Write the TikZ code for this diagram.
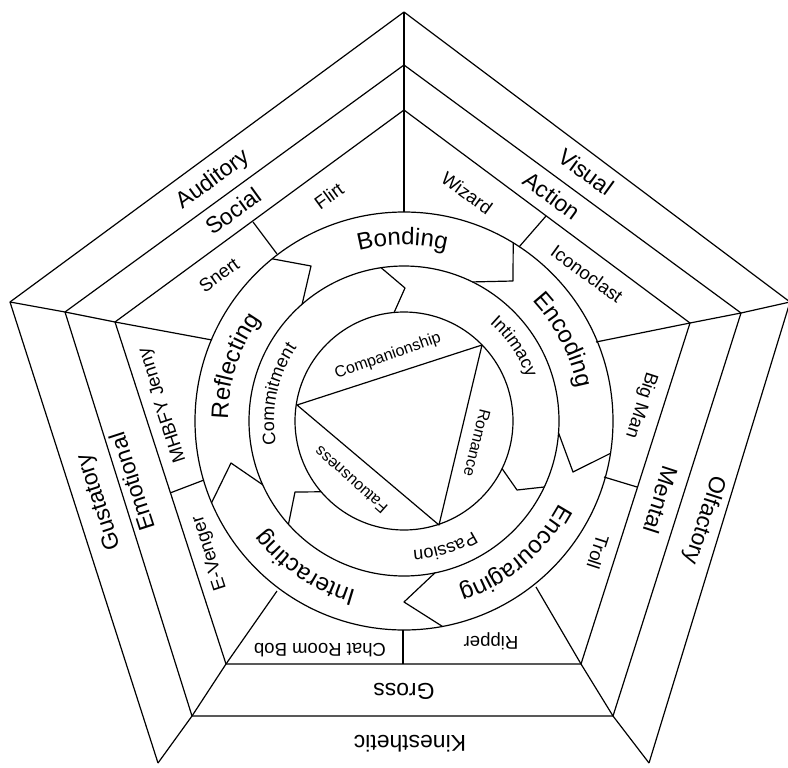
\documentclass[tikz,border=0pt]{standalone}
\usepackage{fontspec}
\setmainfont{Liberation Sans}
\usetikzlibrary{calc,decorations.text}
\begin{document}
\begin{tikzpicture}[x=0.75pt,y=-0.75pt,line width=0.9pt,line join=round,
  lbband/.style={font=\fontsize{17.2}{19}\selectfont,inner sep=0pt},
  lbcell/.style={font=\fontsize{13.9}{16}\selectfont,inner sep=0pt},
  lbtri/.style={font=\fontsize{12}{14}\selectfont,inner sep=0pt},
  ringtext/.style={decorate,decoration={text along path,text align=center,
     text={|\fontsize{18}{20}\selectfont|#1}}},
  innertext/.style={decorate,decoration={text along path,text align=center,
     text={|\fontsize{13.5}{15}\selectfont|#1}}}]
\useasboundingbox (0,0) rectangle (788,767);
\coordinate (O) at (404,421);
% pentagon vertices
\coordinate (a0) at (404,12);  \coordinate (b0) at (790,302); \coordinate (c0) at (649,763);
\coordinate (d0) at (158,763); \coordinate (e0) at (10,302);
\coordinate (a1) at (404,65);  \coordinate (b1) at (741,313); \coordinate (c1) at (613,716);
\coordinate (d1) at (192,716); \coordinate (e1) at (65,312);
\coordinate (a2) at (404,110); \coordinate (b2) at (690,323); \coordinate (c2) at (581,664);
\coordinate (d2) at (226,664); \coordinate (e2) at (115,322);
% radial ends on outer circle
\coordinate (ra) at ($(O)+(-90:209)$);
\coordinate (rb) at (596,342);
\coordinate (rc) at (536,587);
\coordinate (rd) at (277,591);
\coordinate (re) at (212,340);
% pentagons
\draw (c0) -- (b0) -- (a0) -- (e0) -- (d0);
\draw (a1) -- (b1) -- (c1) -- (d1) -- (e1) -- cycle;
\draw (a2) -- (b2) -- (c2) -- (d2) -- (e2) -- cycle;
% radials
\draw (a0) -- (a1) -- (a2) -- (ra);
\draw (b0) -- (b1) -- (b2) -- (rb);
\draw (c0) -- (c1) -- (c2) -- (rc);
\draw (d0) -- (d1) -- (d2) -- (rd);
\draw (e0) -- (e1) -- (e2) -- (re);
% cell dividers
\coordinate (m1) at (253,222); \coordinate (n1) at (277,254);
\coordinate (m2) at (546,216); \coordinate (n2) at (519,247);
\coordinate (m3) at (637,487); \coordinate (n3) at (604,477);
\coordinate (m4) at (403,664); \coordinate (n4) at (403,630);
\coordinate (m5) at (170,493); \coordinate (n5) at (204,480);
\draw (m1) -- (n1); \draw (m2) -- (n2); \draw (m3) -- (n3);
\draw (m4) -- (n4); \draw (m5) -- (n5);
% circles
\draw (O) circle[radius=209];
\draw (O) circle[radius=155];
\draw (O) circle[radius=109];
% outer ring arrow boundaries
\draw ($(O)+(-129.1:209)$) -- (311,266) -- ($(O)+(-131.1:155)$);
\draw ($(O)+(-58.5:209)$) -- (513,281) -- ($(O)+(-63.8:155)$);
\draw ($(O)+(8.9:209)$) -- (573,472) -- ($(O)+(4.4:155)$);
\draw ($(O)+(79.4:209)$) -- (404,602) -- ($(O)+(78.5:155)$);
\draw ($(O)+(157.0:209)$) -- (231,463) -- ($(O)+(155.7:155)$);
% inner ring arrow boundaries
\draw ($(O)+(-98.5:155)$) -- (405,288) -- ($(O)+(-95.2:109)$);
\draw ($(O)+(25.2:155)$) -- (517,490) -- ($(O)+(25.9:109)$);
\draw ($(O)+(138.2:155)$) -- (295,492) -- ($(O)+(139.5:109)$);
% triangle
\coordinate (t1) at (297,405); \coordinate (t2) at (482,345); \coordinate (t3) at (439,525);
\draw (t1) -- (t2) -- (t3) -- cycle;
% outer band labels
\node[lbband,rotate=36] (Lau) at (213,180) {Auditory};
\node[lbband,rotate=-36] (Lvi) at (586,172) {Visual};
\node[lbband,rotate=-108] (Lol) at (704,520) {Olfactory};
\node[lbband,rotate=180] (Lki) at (410,744) {Kinesthetic};
\node[lbband,rotate=108] (Lgu) at (100,502) {Gustatory};
% middle band labels
\node[lbband,rotate=36] (Lso) at (233,211) {Social};
\node[lbband,rotate=-36] (Lac) at (552,196) {Action};
\node[lbband,rotate=-108] (Lme) at (661,500) {Mental};
\node[lbband,rotate=180] (Lgr) at (404,691) {Gross};
\node[lbband,rotate=108] (Lem) at (132,482) {Emotional};
% cells
\node[lbcell,rotate=36] (Lfl) at (329,196) {Flirt};
\node[lbcell,rotate=36] (Lsn) at (219,275) {Snert};
\node[lbcell,rotate=-36] (Lwi) at (467,193) {Wizard};
\node[lbcell,rotate=-36] (Lic) at (587,274) {Iconoclast};
\node[lbcell,rotate=-108] (Lbm) at (641,405) {Big Man};
\node[lbcell,rotate=-108] (Ltr) at (598,552) {Troll};
\node[lbcell,rotate=180] (Lri) at (491,641) {Ripper};
\node[lbcell,rotate=180] (Lcr) at (320,650) {Chat Room Bob};
\node[lbcell,rotate=108] (Lev) at (210,553) {E-Venger};
\node[lbcell,rotate=108] (Lmh) at (163,405) {MHBFY Jenny};
% ring labels (clockwise, tops outward)
\path[ringtext=Bonding] ($(O)+(-130.5:176)$) arc[start angle=-130.5,end angle=-50.5,radius=176];
\path[ringtext=Encoding] ($(O)+(-67:176)$) arc[start angle=-67,end angle=13,radius=176];
\path[ringtext=Encouraging] ($(O)+(10:176)$) arc[start angle=10,end angle=90,radius=176];
\path[ringtext=Interacting] ($(O)+(84:176)$) arc[start angle=84,end angle=164,radius=176];
\path[ringtext=Reflecting] ($(O)+(158:176)$) arc[start angle=158,end angle=238,radius=176];
% inner ring labels
\path[innertext=Commitment] ($(O)+(142:130)$) arc[start angle=142,end angle=242,radius=130];
\path[innertext=Intimacy] ($(O)+(-84:130)$) arc[start angle=-84,end angle=16,radius=130];
\path[innertext=Passion] ($(O)+(22:130)$) arc[start angle=22,end angle=122,radius=130];
% triangle labels
\node[lbtri,rotate=19.5] (Lcp) at (388,356) {Companionship};
\node[lbtri,rotate=-104] (Lro) at (477,443) {Romance};
\node[lbtri,rotate=138.4] (Lfa) at (351,480) {Fatuousness};
\end{tikzpicture}
\end{document}
